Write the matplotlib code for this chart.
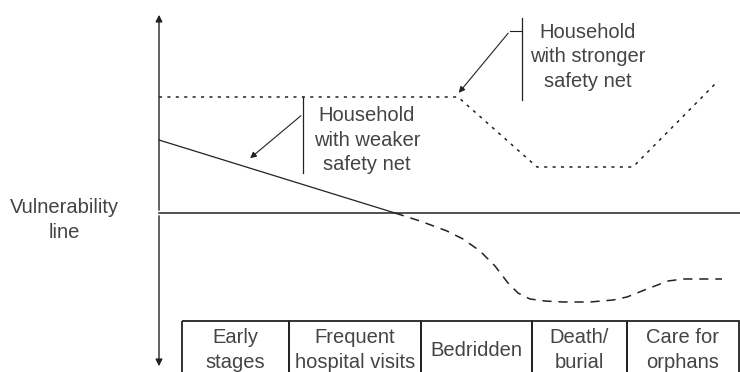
import matplotlib.pyplot as plt
from matplotlib.patches import Rectangle

plt.rcParams['font.family'] = ['Liberation Sans', 'DejaVu Sans']

# Кривые (в пикселях картинки)
strong_x = [159, 458, 537, 633, 717]
strong_y = [97, 97, 167, 167, 82]

weak_solid_x = [159, 395]
weak_solid_y = [140, 213]

weak_dash_x = [395, 420, 447, 463, 480, 495, 508, 518, 530, 545, 563, 590, 613, 627, 647, 668, 683, 700, 722]
weak_dash_y = [213, 221, 231, 239, 251, 266, 283, 293, 299, 301, 302, 302, 300, 297, 289, 281, 279, 279, 279]

vuln_y = 213

# Стадии болезни
stages = ['Early\nstages', 'Frequent\nhospital visits', 'Bedridden', 'Death/\nburial', 'Care for\norphans']
stage_edges = [182, 289, 421, 532, 627, 739]

ink = '#222222'
txt = '#444444'
fs = 14.5
ls = 1.35

fig = plt.figure(figsize=(7.4, 3.72), dpi=100)
ax = fig.add_axes([0, 0, 1, 1])
ax.set_xlim(0, 740)
ax.set_ylim(372, 0)
ax.axis('off')

# Вертикальная ось со стрелками
ax.annotate('', xy=(159, 12), xytext=(159, 213),
            arrowprops=dict(arrowstyle='-|>', color=ink, lw=1.0, mutation_scale=10))
ax.annotate('', xy=(159, 369), xytext=(159, 213),
            arrowprops=dict(arrowstyle='-|>', color=ink, lw=1.0, mutation_scale=10))

# Линия уязвимости
ax.plot([159, 740], [vuln_y, vuln_y], color=ink, lw=1.1)
ax.text(64, 220, 'Vulnerability\nline', ha='center', va='center', fontsize=fs,
        color=txt, linespacing=ls)

# Домохозяйства
ax.plot(strong_x, strong_y, color=ink, lw=1.1, dashes=(2, 3.5))
ax.plot(weak_solid_x, weak_solid_y, color=ink, lw=0.9)
ax.plot(weak_dash_x, weak_dash_y, color=ink, lw=1.1, dashes=(6, 4.5))

# Подписи с выносками
ax.plot([303, 303], [97, 173], color=ink, lw=0.9)
ax.annotate('', xy=(248, 160), xytext=(303, 114),
            arrowprops=dict(arrowstyle='-|>', color=ink, lw=0.8, mutation_scale=9))
ax.text(367, 140, 'Household\nwith weaker\nsafety net', ha='center', va='center',
        fontsize=fs, color=txt, linespacing=ls)

ax.plot([522, 522], [18, 100], color=ink, lw=0.9)
ax.plot([522, 510], [31, 31], color=ink, lw=0.8)
ax.annotate('', xy=(457, 95), xytext=(510, 31),
            arrowprops=dict(arrowstyle='-|>', color=ink, lw=0.8, mutation_scale=9))
ax.text(588, 57, 'Household\nwith stronger\nsafety net', ha='center', va='center',
        fontsize=fs, color=txt, linespacing=ls)

# Таблица стадий
for i, s in enumerate(stages):
    x0, x1 = stage_edges[i], stage_edges[i + 1]
    ax.add_patch(Rectangle((x0, 321), x1 - x0, 70, fill=False, edgecolor=ink, lw=1.3,
                           clip_on=True))
    ax.text((x0 + x1) / 2, 350, s, ha='center', va='center', fontsize=fs,
            color=txt, linespacing=ls)

fig.savefig('out.png', dpi=100)
